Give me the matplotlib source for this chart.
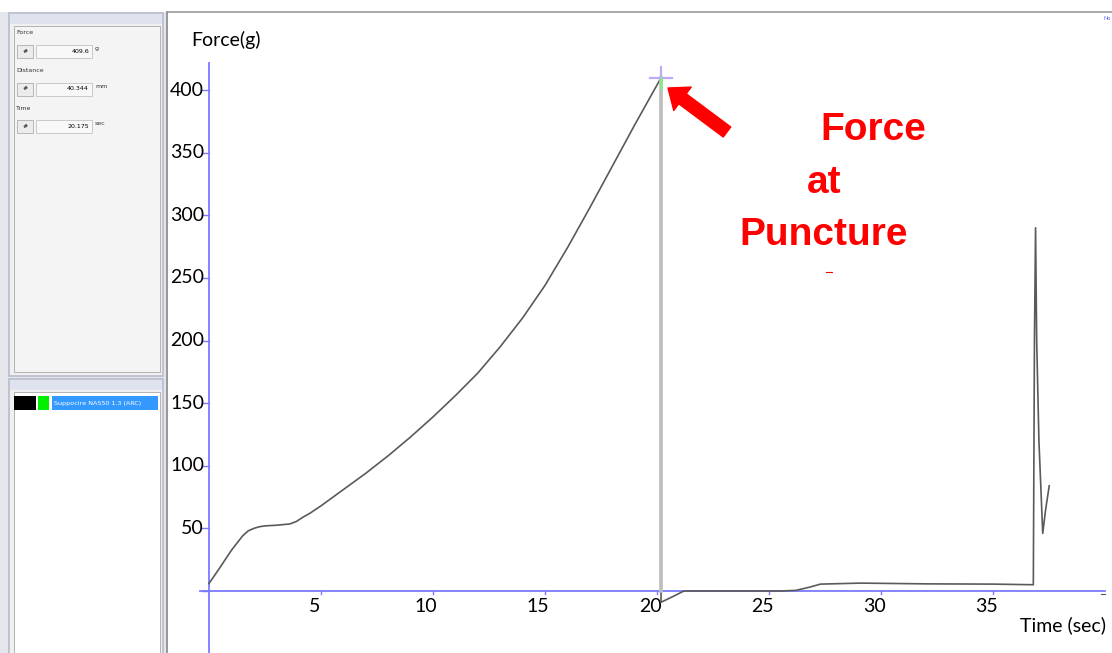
import numpy as np
import matplotlib.pyplot as plt
from matplotlib.patches import Rectangle

''' Figure format '''
plt.rc('font', size=10, family='Lato')

''' Data read off the screenshot '''
# loading phase up to puncture
timeRise = [0.0, 0.5, 1.0, 1.5, 1.75, 2.0, 2.25, 2.5, 3.0, 3.6, 3.9, 4.2, 4.5, 5.0, 6.0, 7.0, 8.0,
            9.0, 10.0, 11.0, 12.0, 13.0, 14.0, 15.0, 16.0, 17.0, 18.0, 19.0, 20.175]
forceRise = [6.0, 19.0, 32.5, 44.0, 48.0, 50.0, 51.3, 52.0, 52.5, 53.5, 55.5, 59.0, 62.0, 68.0, 81.0, 94.0, 108.0,
             123.0, 139.0, 156.0, 174.0, 195.0, 218.0, 244.0, 274.0, 306.0, 339.0, 372.0, 409.6]
# after puncture (drop, baseline, withdrawal spike)
timeAfter = [20.175, 20.18, 20.7, 21.2, 25.5, 26.2, 26.8, 27.3, 29.1, 32.0, 35.0, 36.8,
             36.85, 36.9, 36.95, 37.05, 37.22, 37.35, 37.51]
forceAfter = [409.6, -9.0, -4.5, 0.0, 0.0, 0.5, 3.0, 5.5, 6.3, 5.7, 5.5, 5.0,
              200.0, 290.0, 200.0, 120.0, 46.0, 65.0, 84.0]

punctureTime = 20.175
punctureForce = 409.6

xTicks = [5, 10, 15, 20, 25, 30, 35]
yTicks = [50, 100, 150, 200, 250, 300, 350, 400]
yTickMarks = [-50, 0, 50, 100, 150, 200, 250, 300, 350, 400]

readoutLabels = ['Force', 'Distance', 'Time']
readoutValues = ['409.6', '40.344', '20.175']
readoutUnits = ['g', 'mm', 'sec']
sampleName = 'Suppocire NAS50 1.3 (ARC)'

''' Colors '''
axisBlue = '#7b7bff'
curveGrey = '#5a5a5a'
panelBorder = '#b8bccc'
panelHead = '#dfe3ee'

''' Pixel layout of the screenshot '''
W, H = 1112, 653
x0px, pxPerSec = 209.0, 22.4
y0px, pxPerG = 591.0, 1.2525
plotL, plotT = 168, 12

fig = plt.figure(figsize=(W / 100, H / 100), dpi=100)

# background axes in pixel coords for the software panels
bg = fig.add_axes([0, 0, 1, 1])
bg.set_xlim(0, W)
bg.set_ylim(H, 0)
bg.axis('off')


def box(x0, y0, x1, y1, fc, ec='none', lw=0.0):
    bg.add_patch(Rectangle((x0, y0), x1 - x0, y1 - y0, fc=fc, ec=ec, lw=lw))


box(0, plotT, plotL, H, '#e4e6ec')
# top readout panel
box(9, 13, 163, 376, '#f0f0f0', panelBorder, 1.2)
box(10, 14, 162, 24, panelHead)
box(14, 26, 160, 372, '#f4f4f4', '#a8a8a8', 0.6)
for i in range(len(readoutLabels)):
    ly = 33 + 37.5 * i
    by = 45 + 37.5 * i
    bg.text(16, ly, readoutLabels[i], fontsize=4.5, family='DejaVu Sans', va='center', color='#333333')
    box(17, by, 33, by + 13, '#ececec', '#a0a0a0', 0.5)
    bg.text(25, by + 6.5, '#', fontsize=4.5, family='DejaVu Sans', ha='center', va='center')
    box(36, by, 92, by + 13, '#f8f8f8', '#b8b8b8', 0.5)
    bg.text(89, by + 6.5, readoutValues[i], fontsize=4.5, family='DejaVu Sans', ha='right', va='center')
    bg.text(95, by + 3.5, readoutUnits[i], fontsize=4.5, family='DejaVu Sans', va='center', color='#333333')

# bottom legend panel
box(9, 379, 163, H + 2, '#f0f0f0', panelBorder, 1.2)
box(10, 380, 162, 390, panelHead)
box(14, 392, 160, H + 2, 'white', '#a8a8a8', 0.6)
box(14, 396, 36, 410, 'black')
box(38, 396, 49, 410, '#00ee00')
box(52, 396, 158, 410, '#3399ff')
bg.text(54, 403, sampleName, fontsize=4.6, family='DejaVu Sans', color='white', va='center')

# plot region frame
box(plotL, plotT, W, H, 'white')
bg.plot([plotL, W], [plotT, plotT], color='#9a9a9a', lw=1.2)
bg.plot([plotL - 1, plotL - 1], [plotT, H], color='#8a8a8a', lw=1.2)
bg.text(1103, 18, 'No', fontsize=4, color='#6060ff', va='center')

''' Main chart axes '''
ax = fig.add_axes([plotL / W, 0, (W - plotL) / W, (H - plotT) / H])
ax.patch.set_alpha(0)
ax.set_xlim((plotL - x0px) / pxPerSec, (W - x0px) / pxPerSec)
ax.set_ylim((y0px - H) / pxPerG, (y0px - plotT) / pxPerG)
ax.axis('off')

yTop = (y0px - 63) / pxPerG
xEnd = (1105 - x0px) / pxPerSec

# blue axis lines and ticks
ax.plot([0, 0], [ax.get_ylim()[0], yTop], color=axisBlue, lw=1.3)
ax.plot([-0.4, xEnd], [0, 0], color=axisBlue, lw=1.3)
for yv in yTickMarks:
    ax.plot([-0.3, 0], [yv, yv], color=axisBlue, lw=1.0)
for xv in xTicks:
    ax.plot([xv, xv], [0, -2.5], color=axisBlue, lw=1.0)
ax.plot([xEnd - 0.2, xEnd], [-2, -2], color='#555555', lw=0.8)

# tick labels
for yv in yTicks:
    ax.text(-0.22, yv, str(yv), fontsize=14, ha='right', va='center')
for xv in xTicks:
    ax.text(xv - 0.3, -12.5, str(xv), fontsize=14, ha='center', va='center')
ax.text(-0.8, (y0px - 40) / pxPerG, 'Force(g)', fontsize=14, va='center')
ax.text((1020 - x0px) / pxPerSec, (y0px - 625) / pxPerG, 'Time (sec)', fontsize=14, va='center')

# force curve
ax.plot(timeRise, forceRise, color=curveGrey, lw=1.2, zorder=3)
ax.plot(timeAfter, forceAfter, color=curveGrey, lw=1.2, zorder=3)

# cursor line at puncture (drawn over the drop)
ax.plot([punctureTime, punctureTime], [0, punctureForce], color='#bdbdbd', lw=2.6, zorder=4)

# cursor crosshair
ax.plot([punctureTime - 0.5, punctureTime + 0.5], [punctureForce, punctureForce], color='#c0a8f8', lw=1.6, zorder=5)
ax.plot([punctureTime, punctureTime], [punctureForce, punctureForce + 9], color='#c0a8f8', lw=1.6, zorder=5)
ax.plot([punctureTime, punctureTime], [punctureForce - 8, punctureForce], color='#80f080', lw=1.8, zorder=5)

# annotation
tip = ((668 - x0px) / pxPerSec, (y0px - 88) / pxPerG)
tail = ((727 - x0px) / pxPerSec, (y0px - 132) / pxPerG)
ax.annotate('', xy=tip, xytext=tail,
            arrowprops=dict(arrowstyle='simple,head_length=0.65,head_width=1.05,tail_width=0.45',
                            mutation_scale=20, color='red', shrinkA=0, shrinkB=0))
redFont = dict(fontsize=28, fontweight='bold', color='red', family='Liberation Sans', va='center')
ax.text((820 - x0px) / pxPerSec, (y0px - 130) / pxPerG, 'Force', **redFont)
ax.text((807 - x0px) / pxPerSec, (y0px - 183) / pxPerG, 'at', **redFont)
ax.text((739 - x0px) / pxPerSec, (y0px - 235) / pxPerG, 'Puncture', **redFont)
ax.plot([(826 - x0px) / pxPerSec, (832 - x0px) / pxPerSec], [(y0px - 272) / pxPerG] * 2, color='red', lw=0.8)

fig.savefig('out.png', dpi=100)
